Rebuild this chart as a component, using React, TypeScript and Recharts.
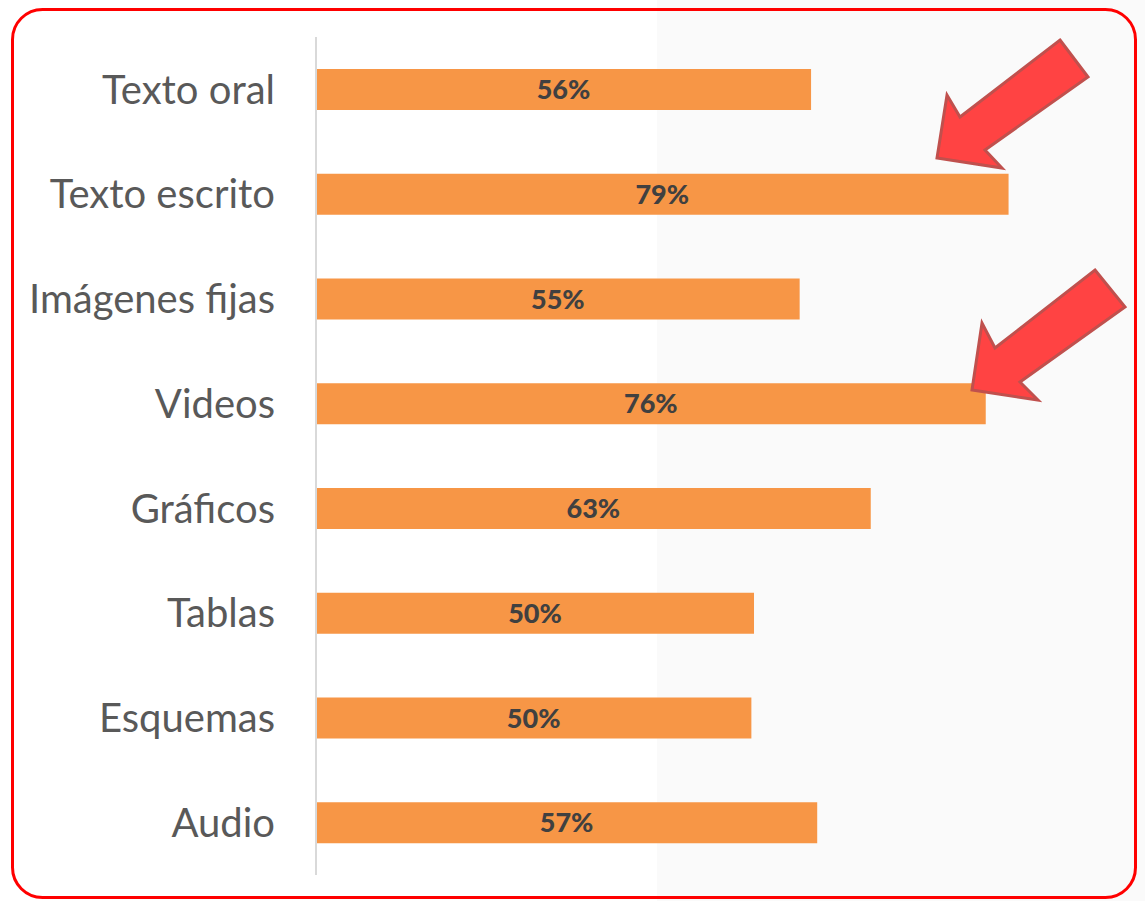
import React from 'react';
import { BarChart, Bar, XAxis, YAxis, LabelList } from 'recharts';

// Categories and shares (%)
const categories = [
  'Texto oral',
  'Texto escrito',
  'Imágenes fijas',
  'Videos',
  'Gráficos',
  'Tablas',
  'Esquemas',
  'Audio',
];
const shares = [56.4, 78.9, 55.1, 76.3, 63.2, 49.9, 49.6, 57.1];

const data = categories.map((name, i) => ({ name, share: shares[i] }));

const W = 1145;
const H = 901;

// decorative callout arrows (not data marks)
const arrows = [
  '1060,40 1088,77 985,150 1002,168 937,158 947,95 960,117',
  '1095,270 1125,307 1020,382 1038,400 972,390 982,323 995,348',
];

const App: React.FC = () => {
  return (
    <div style={{ position: 'absolute', left: 0, top: 0, width: W, height: H, background: '#fff', overflow: 'hidden' }}>
      {/* light panel behind the right side */}
      <div style={{ position: 'absolute', left: 657, top: 0, width: W - 657, height: H, background: '#fafafa' }} />

      <div style={{ position: 'absolute', left: 0, top: 0 }}>
        <BarChart
          width={W}
          height={H}
          data={data}
          layout="vertical"
          margin={{ top: 37, right: 39, bottom: 26, left: 0 }}
        >
          <XAxis type="number" domain={[0, 90]} hide />
          <YAxis
            type="category"
            dataKey="name"
            width={316}
            tickSize={0}
            tickMargin={41}
            axisLine={{ stroke: '#d9d9d9', strokeWidth: 2 }}
            tickLine={false}
            tick={{ fill: '#595959', fontSize: 40, fontFamily: 'Lato' }}
          />
          <Bar dataKey="share" fill="#F79646" barSize={41} isAnimationActive={false}>
            <LabelList
              dataKey="share"
              position="center"
              formatter={(v: number) => `${Math.round(v)}%`}
              style={{ fill: '#404040', fontSize: 27, fontWeight: 900, fontFamily: 'Lato' }}
            />
          </Bar>
        </BarChart>
      </div>

      <svg width={W} height={H} style={{ position: 'absolute', left: 0, top: 0, pointerEvents: 'none' }}>
        {arrows.map((pts, i) => (
          <polygon key={i} points={pts} fill="#FF4343" stroke="#C0504D" strokeWidth={3} strokeLinejoin="miter" />
        ))}
        <rect x={12.5} y={9.5} width={1123} height={888} rx={30} ry={30} fill="none" stroke="#ff0000" strokeWidth={3} />
      </svg>
    </div>
  );
};

export default App;
